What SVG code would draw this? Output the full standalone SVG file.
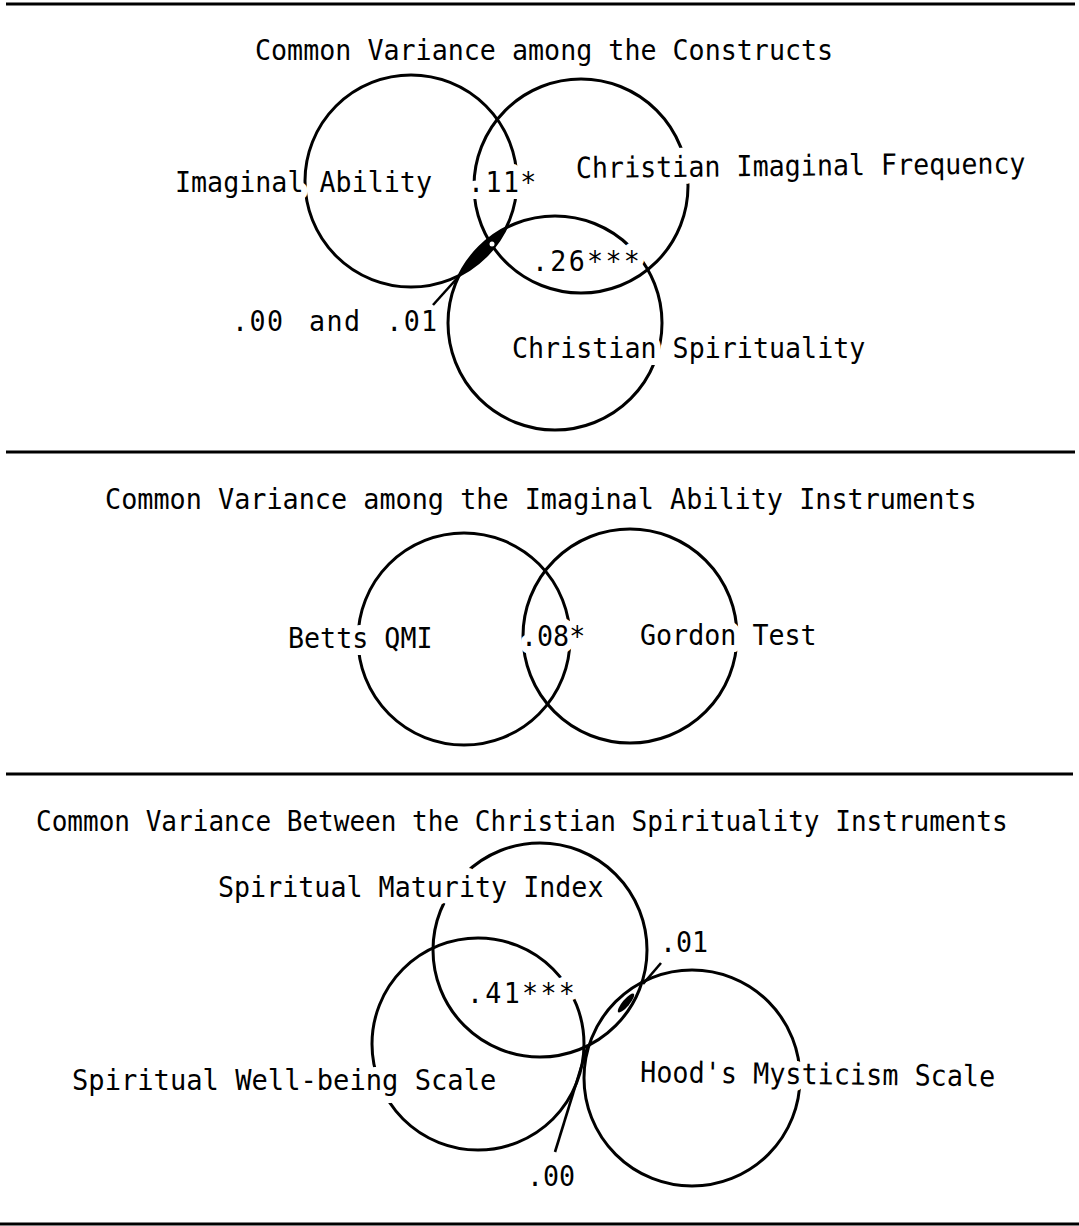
<svg xmlns="http://www.w3.org/2000/svg" width="1079" height="1226" viewBox="0 0 1079 1226">
<style>
.c{fill:none;stroke:#000;stroke-width:3}
.r{stroke:#000;stroke-width:3}
.t{font-family:"DejaVu Sans Mono","Liberation Mono",monospace;font-size:29px;fill:#000;stroke:#fff;stroke-width:14;stroke-linejoin:round;paint-order:stroke}
.p{fill:none;stroke:#000;stroke-width:2.6}
.lens{fill:#000;stroke:#000;stroke-width:1}
</style>
<rect width="1079" height="1226" fill="#fff"/>
<g id="rules">
<line class="r" x1="6" y1="4" x2="1075" y2="4"/>
<line class="r" x1="6" y1="452" x2="1075" y2="452"/>
<line class="r" x1="6" y1="774" x2="1073" y2="774"/>
<line class="r" x1="0" y1="1224" x2="1079" y2="1224"/>
</g>
<g id="panel1">
<text class="t" transform="translate(255,60) scale(0.92,1)">Common Variance among the Constructs</text>
<g id="imaginal-ability"><circle class="c" cx="411" cy="181" r="106"/></g>
<g id="christian-imaginal-frequency"><circle class="c" cx="581" cy="186" r="107"/></g>
<g id="christian-spirituality"><circle class="c" cx="555" cy="323" r="107"/></g>
<path class="lens" d="M459,275 A106,106 0 0 0 506,228 A107,107 0 0 0 459,275 Z"/>
<circle cx="492" cy="244" r="2.5" fill="#fff"/>
<text class="t" transform="translate(175,192) scale(0.92,1)">Imaginal Ability</text>
<text class="t" transform="translate(468,192) scale(0.92,1)" letter-spacing="1.5">.11*</text>
<text class="t" transform="translate(576,178) rotate(-0.6) scale(0.92,1)">Christian Imaginal Frequency</text>
<text class="t" transform="translate(532,271) scale(0.92,1)" letter-spacing="2.5">.26***</text>
<text class="t" transform="translate(232,331) scale(0.92,1)" letter-spacing="1.5" word-spacing="8">.00 and .01</text>
<text class="t" transform="translate(512,358) scale(0.92,1)">Christian Spirituality</text>
</g>
<g id="panel2">
<text class="t" transform="translate(105,509) scale(0.925,1)">Common Variance among the Imaginal Ability Instruments</text>
<g id="betts-qmi"><circle class="c" cx="464" cy="639" r="106"/></g>
<g id="gordon-test"><circle class="c" cx="630" cy="636" r="107"/></g>
<text class="t" transform="translate(288,648) scale(0.92,1)">Betts QMI</text>
<text class="t" transform="translate(521,646) scale(0.92,1)">.08*</text>
<text class="t" transform="translate(640,645) scale(0.92,1)">Gordon Test</text>
</g>
<g id="panel3">
<text class="t" transform="translate(36,831) scale(0.898,1)">Common Variance Between the Christian Spirituality Instruments</text>
<g id="spiritual-maturity-index"><circle class="c" cx="540" cy="950" r="107"/></g>
<g id="spiritual-well-being-scale"><circle class="c" cx="478" cy="1044" r="106"/></g>
<g id="hoods-mysticism-scale"><circle class="c" cx="692" cy="1078" r="108"/></g>
<ellipse cx="626" cy="1003" rx="12" ry="3.5" transform="rotate(-50 626 1003)" fill="#000"/>
<text class="t" transform="translate(218,897) scale(0.92,1)">Spiritual Maturity Index</text>
<text class="t" transform="translate(467,1003) scale(0.92,1)" letter-spacing="2.5">.41***</text>
<text class="t" transform="translate(660,952) scale(0.92,1)">.01</text>
<text class="t" transform="translate(72,1090) scale(0.935,1)">Spiritual Well-being Scale</text>
<text class="t" transform="translate(640,1082) rotate(0.7) scale(0.925,1)">Hood's Mysticism Scale</text>
<text class="t" transform="translate(527,1186) scale(0.92,1)">.00</text>
</g>
<g id="connectors">
<line class="p" x1="433" y1="305" x2="460" y2="275"/>
<line class="p" x1="661" y1="963" x2="643" y2="984"/>
<line class="p" x1="555" y1="1152" x2="588" y2="1045"/>
</g>
</svg>
